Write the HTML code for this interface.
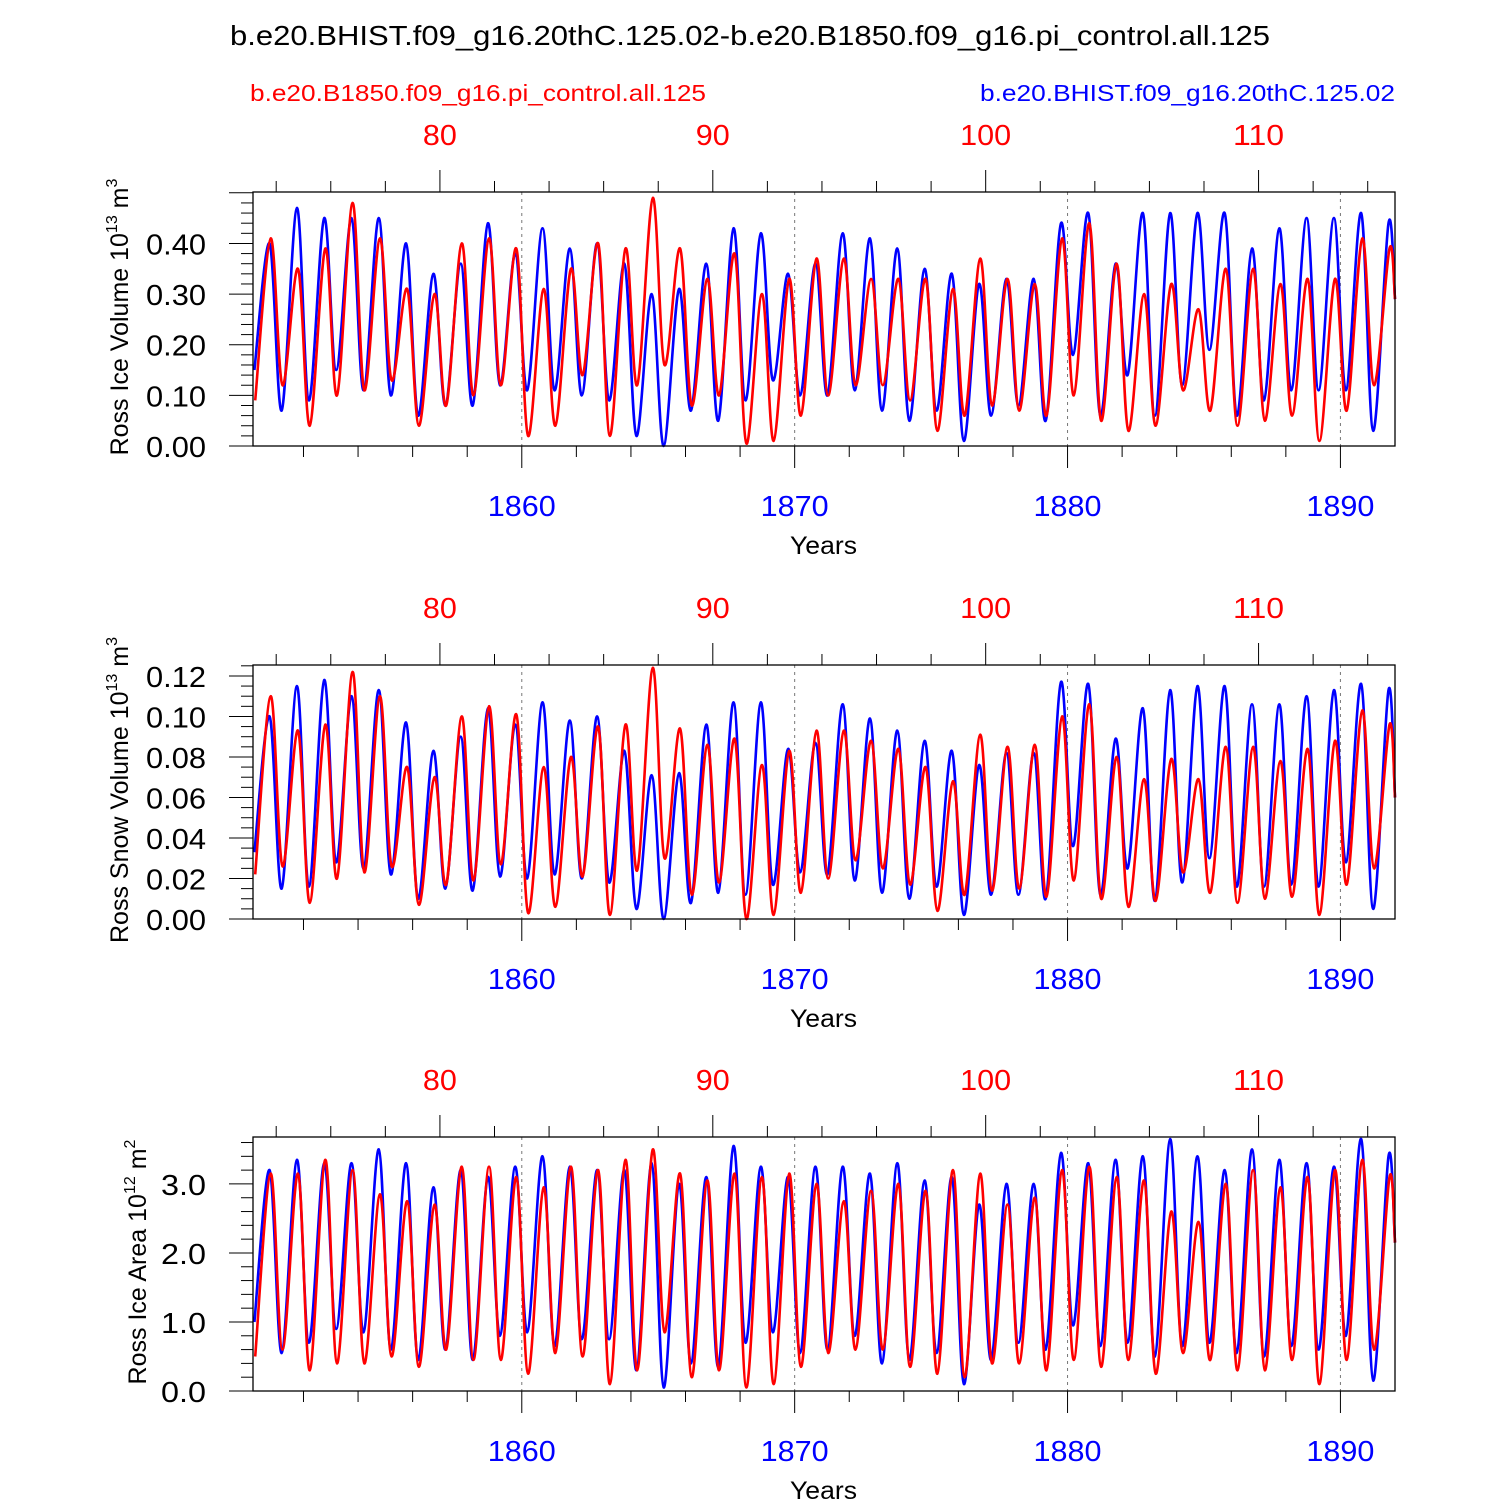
<!DOCTYPE html>
<html><head><meta charset="utf-8">
<style>
html,body{margin:0;padding:0;background:#fff;}
svg{display:block;font-family:"Liberation Sans",Arial,sans-serif;}
</style></head>
<body>
<svg id="chart" width="1500" height="1500" viewBox="0 0 1500 1500" xmlns="http://www.w3.org/2000/svg">
<text x="230" y="45" font-size="28" textLength="1040" lengthAdjust="spacingAndGlyphs">b.e20.BHIST.f09_g16.20thC.125.02-b.e20.B1850.f09_g16.pi_control.all.125</text>
<text x="250" y="101" font-size="23" fill="#ff0000" textLength="456" lengthAdjust="spacingAndGlyphs">b.e20.B1850.f09_g16.pi_control.all.125</text>
<text x="980" y="101" font-size="23" fill="#0000ff" textLength="415" lengthAdjust="spacingAndGlyphs">b.e20.BHIST.f09_g16.20thC.125.02</text>
</svg>
<script>
// ---- data: yearly troughs (early year, ~Mar) and peaks (~Sep), 1850..1891 ----
const years = [];
for (let y = 1850; y <= 1891; y++) years.push(y);
const xTicks = [1860, 1870, 1880, 1890];
const topTicks = [80, 90, 100, 110];

const volBluePeak = [0.40,0.47,0.45,0.45,0.45,0.40,0.34,0.36,0.44,0.38,0.43,0.39,0.40,0.36,0.30,0.31,0.36,0.43,0.42,0.34,0.36,0.42,0.41,0.39,0.35,0.34,0.32,0.33,0.33,0.44,0.46,0.36,0.46,0.46,0.46,0.46,0.39,0.43,0.45,0.45,0.46,0.44];
const volBlueTrough = [0.15,0.07,0.09,0.15,0.11,0.10,0.06,0.08,0.08,0.12,0.11,0.11,0.10,0.09,0.02,0.00,0.07,0.05,0.09,0.13,0.10,0.10,0.11,0.07,0.05,0.07,0.01,0.06,0.08,0.05,0.18,0.06,0.14,0.06,0.12,0.19,0.06,0.09,0.11,0.11,0.11,0.03];
const volRedPeak = [0.41,0.35,0.39,0.48,0.41,0.31,0.30,0.40,0.41,0.39,0.31,0.35,0.40,0.39,0.49,0.39,0.33,0.38,0.30,0.33,0.37,0.37,0.33,0.33,0.33,0.31,0.37,0.33,0.32,0.41,0.44,0.36,0.30,0.32,0.27,0.35,0.35,0.32,0.33,0.33,0.41,0.39];
const volRedTrough = [0.09,0.12,0.04,0.10,0.11,0.13,0.04,0.08,0.10,0.12,0.02,0.04,0.14,0.02,0.12,0.16,0.08,0.10,0.005,0.01,0.06,0.10,0.12,0.12,0.09,0.03,0.06,0.08,0.07,0.06,0.10,0.05,0.03,0.04,0.11,0.07,0.04,0.05,0.06,0.01,0.07,0.12];
const volEnd = [0.29, 0.29];

const snowBluePeak = [0.100,0.115,0.118,0.110,0.113,0.097,0.083,0.090,0.104,0.096,0.107,0.098,0.100,0.083,0.071,0.072,0.096,0.107,0.107,0.084,0.087,0.106,0.099,0.093,0.088,0.083,0.076,0.082,0.082,0.117,0.116,0.089,0.104,0.113,0.115,0.115,0.106,0.106,0.110,0.113,0.116,0.113];
const snowBlueTrough = [0.033,0.015,0.016,0.028,0.025,0.022,0.010,0.015,0.014,0.021,0.020,0.022,0.020,0.018,0.005,0.000,0.008,0.013,0.012,0.017,0.023,0.022,0.019,0.013,0.010,0.016,0.002,0.012,0.012,0.010,0.036,0.012,0.025,0.009,0.018,0.030,0.016,0.016,0.017,0.016,0.028,0.005];
const snowRedPeak = [0.110,0.093,0.096,0.122,0.110,0.075,0.070,0.100,0.105,0.101,0.075,0.080,0.095,0.096,0.124,0.094,0.086,0.089,0.076,0.083,0.093,0.093,0.088,0.084,0.075,0.068,0.091,0.085,0.086,0.100,0.106,0.080,0.069,0.079,0.069,0.085,0.085,0.078,0.084,0.088,0.103,0.096];
const snowRedTrough = [0.022,0.026,0.008,0.020,0.023,0.026,0.007,0.017,0.019,0.027,0.003,0.006,0.021,0.002,0.024,0.030,0.012,0.018,0.000,0.002,0.013,0.020,0.029,0.025,0.017,0.004,0.012,0.014,0.015,0.011,0.019,0.010,0.006,0.009,0.023,0.013,0.008,0.010,0.011,0.002,0.017,0.025];
const snowEnd = [0.06, 0.06];

const areaBluePeak = [3.2,3.35,3.3,3.3,3.5,3.3,2.95,3.2,3.1,3.25,3.4,3.25,3.2,3.2,3.3,3.0,3.1,3.55,3.25,3.1,3.25,3.25,3.15,3.3,3.05,3.1,2.7,3.0,3.0,3.45,3.3,3.35,3.4,3.65,3.4,3.2,3.5,3.35,3.3,3.25,3.65,3.4];
const areaBlueTrough = [1.0,0.55,0.7,0.9,0.85,0.6,0.45,0.6,0.45,0.8,0.85,0.65,0.75,0.75,0.3,0.05,0.4,0.35,0.7,0.85,0.55,0.6,0.8,0.4,0.45,0.55,0.1,0.45,0.7,0.6,0.95,0.65,0.7,0.5,0.65,0.7,0.55,0.5,0.65,0.6,0.8,0.15];
const areaRedPeak = [3.15,3.15,3.35,3.2,2.85,2.75,2.7,3.25,3.25,3.1,2.95,3.25,3.2,3.35,3.5,3.15,3.05,3.15,3.1,3.15,3.0,2.75,2.9,3.0,2.9,3.2,3.15,2.7,2.8,3.2,3.25,3.1,3.05,2.6,2.45,3.0,3.2,2.95,3.1,3.2,3.35,3.1];
const areaRedTrough = [0.5,0.6,0.3,0.4,0.4,0.5,0.35,0.6,0.45,0.45,0.25,0.55,0.5,0.1,0.3,0.85,0.2,0.3,0.05,0.1,0.35,0.55,0.6,0.6,0.35,0.25,0.2,0.4,0.4,0.3,0.45,0.35,0.45,0.25,0.55,0.45,0.3,0.3,0.45,0.1,0.45,0.6];
const areaEnd = [2.15, 2.15];

const volTicks = ["0.00","0.10","0.20","0.30","0.40"];
const snowTicks = ["0.00","0.02","0.04","0.06","0.08","0.10","0.12"];
const areaTicks = ["0.0","1.0","2.0","3.0"];

// ---- drawing ----
const NS = "http://www.w3.org/2000/svg";
const svg = document.getElementById('chart');
const X0 = 253, X1 = 1395, XMIN = 1850.15, XMAX = 1892.0;
function xs(t){ return X0 + (t - XMIN) / (XMAX - XMIN) * (X1 - X0); }
function mk(tag, attrs, parent){
  const e = document.createElementNS(NS, tag);
  for (const k in attrs) e.setAttribute(k, attrs[k]);
  (parent || svg).appendChild(e);
  return e;
}
function smoothPath(pts){
  let d = "M" + pts[0][0].toFixed(1) + "," + pts[0][1].toFixed(1);
  for (let i = 0; i < pts.length - 1; i++){
    const p0 = pts[Math.max(0, i-1)], p1 = pts[i], p2 = pts[i+1], p3 = pts[Math.min(pts.length-1, i+2)];
    const c1x = p1[0] + (p2[0]-p0[0])/6, c1y = p1[1] + (p2[1]-p0[1])/6;
    const c2x = p2[0] - (p3[0]-p1[0])/6, c2y = p2[1] - (p3[1]-p1[1])/6;
    d += "C" + c1x.toFixed(1) + "," + c1y.toFixed(1) + " " + c2x.toFixed(1) + "," + c2y.toFixed(1) + " " + p2[0].toFixed(1) + "," + p2[1].toFixed(1);
  }
  return d;
}

const panels = [
  {key:"vol", top:192, ymax:0.5016, major:0.1, minor:0.02, ticks:volTicks,
   label:"Ross Ice Volume 10", sup:"13", unit:" m", usup:"3", labelX:128,
   bp:volBluePeak, bt:volBlueTrough, rp:volRedPeak, rt:volRedTrough, end:volEnd},
  {key:"snow", top:665, ymax:0.1254, major:0.02, minor:0.005, ticks:snowTicks,
   label:"Ross Snow Volume 10", sup:"13", unit:" m", usup:"3", labelX:128,
   bp:snowBluePeak, bt:snowBlueTrough, rp:snowRedPeak, rt:snowRedTrough, end:snowEnd},
  {key:"area", top:1137, ymax:3.68, major:1.0, minor:0.2, ticks:areaTicks,
   label:"Ross Ice Area 10", sup:"12", unit:" m", usup:"2", labelX:146,
   bp:areaBluePeak, bt:areaBlueTrough, rp:areaRedPeak, rt:areaRedTrough, end:areaEnd}
];
const H = 254;

panels.forEach(p => {
  const bot = p.top + H;
  const ys = v => bot - v / p.ymax * H;
  const g = mk('g', {});
  
  

  xTicks.forEach(t => {
    const l = mk('line', {x1:xs(t), x2:xs(t), y1:p.top, y2:bot, stroke:'#777', 'stroke-width':1, 'stroke-dasharray':'3,4'}, g);
    
    
  });

  function series(peaks, troughs, endV, color, name, tOff, pOff){
    const pts = [];
    years.forEach((y, i) => {
      pts.push([xs(y + tOff), ys(troughs[i])]);
      pts.push([xs(y + pOff), ys(peaks[i])]);
    });
    pts.push([xs(XMAX), ys(endV)]);
    const path = mk('path', {d:smoothPath(pts), fill:'none', stroke:color, 'stroke-width':2.6, 'stroke-linejoin':'round'}, g);
    
    
  }
  series(p.bp, p.bt, p.end[0], '#0000ff', 'hist', 0.2, 0.76);
  series(p.rp, p.rt, p.end[1], '#ff0000', 'control', 0.23, 0.8);

  const fr = mk('rect', {x:X0, y:p.top, width:X1-X0, height:H, fill:'none', stroke:'#000', 'stroke-width':1.3}, g);
  
  

  const nMinor = Math.round(p.ymax / p.minor + 1e-6);
  for (let i = 0; i <= nMinor; i++){
    const v = i * p.minor;
    if (v > p.ymax) break;
    const isMaj = Math.abs(v / p.major - Math.round(v / p.major)) < 1e-6;
    mk('line', {x1:X0, x2:X0 - (isMaj ? 24 : 12), y1:ys(v), y2:ys(v), stroke:'#000', 'stroke-width':1}, g);
  }
  p.ticks.forEach(s => {
    const t = mk('text', {x:X0 - 107 + (4 - s.length) * 15, y:ys(parseFloat(s)) + 11, 'font-size':29, textLength:s.length * 15, lengthAdjust:'spacingAndGlyphs'}, g);
    t.textContent = s;
    
    
  });
  const cy = p.top + H/2 - 2;
  const yt = mk('text', {x:0, y:0, 'font-size':25, 'text-anchor':'middle', transform:'translate(' + p.labelX + ',' + cy + ') rotate(-90)'}, g);
  
  
  yt.innerHTML = p.label + '<tspan font-size="16" dy="-11">' + p.sup + '</tspan><tspan dy="11">' + p.unit + '</tspan><tspan font-size="16" dy="-11">' + p.usup + '</tspan>';

  for (let y = 1852; y <= 1890; y += 2){
    const maj = y % 10 === 0;
    mk('line', {x1:xs(y), x2:xs(y), y1:bot, y2:bot + (maj ? 22 : 11), stroke:'#000', 'stroke-width':1}, g);
  }
  xTicks.forEach(t => {
    const tx = mk('text', {x:xs(t) - 34, y:bot + 70, 'font-size':29, fill:'#0000ff', textLength:68, lengthAdjust:'spacingAndGlyphs'}, g);
    tx.textContent = t;
    
    
  });
  const xt = mk('text', {x:790, y:bot + 108, 'font-size':25, textLength:67, lengthAdjust:'spacingAndGlyphs'}, g);
  xt.textContent = 'Years';
  
  

  for (let r = 74; r <= 114; r += 2){
    const xx = xs(r + 1777);
    if (xx < X0 || xx > X1) continue;
    const maj = r % 10 === 0;
    mk('line', {x1:xx, x2:xx, y1:p.top, y2:p.top - (maj ? 22 : 11), stroke:'#000', 'stroke-width':1}, g);
  }
  topTicks.forEach(r => {
    const s = String(r);
    const w = s.length * 17;
    const tx = mk('text', {x:xs(r + 1777) - w/2, y:p.top - 47, 'font-size':29, fill:'#ff0000', textLength:w, lengthAdjust:'spacingAndGlyphs'}, g);
    tx.textContent = r;
    
    
  });
});
</script>
</body></html>
